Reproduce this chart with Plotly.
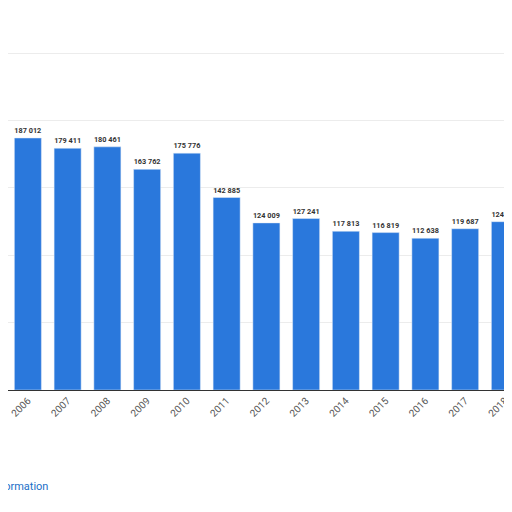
import plotly.graph_objects as go

years = ["2006","2007","2008","2009","2010","2011","2012","2013","2014","2015","2016","2017","2018"]
values = [187012,179411,180461,163762,175776,142885,124009,127241,117813,116819,112638,119687,124910]
labels = [f"{v:,}".replace(",", " ") for v in values]

xs = list(range(len(years)))
fig = go.Figure(go.Bar(x=xs, y=values, text=labels, textposition="outside",
    marker_color="#2a78dc", width=0.68, cliponaxis=False,
    textfont=dict(family="Roboto", size=12, color="#333333", weight="bold")))
fig.update_layout(width=512, height=512, margin=dict(l=0, r=0, t=0, b=130, autoexpand=False),
    paper_bgcolor="white", plot_bgcolor="white", showlegend=False,
    xaxis=dict(range=[-0.5, 12.38], tickvals=xs, ticktext=years, tickangle=-45,
               automargin=False,
               tickfont=dict(family="Roboto", size=10, color="#555555"),
               showline=True, linecolor="#333333", ticks=""),
    yaxis=dict(range=[0, 283480], dtick=50000, showticklabels=False, automargin=False,
               gridcolor="#ececec", zeroline=False),
    annotations=[
        dict(text="Additional Information", x=42/512, xref="paper", xanchor="right",
             y=-96/382, yref="paper", yanchor="middle", showarrow=False,
             font=dict(family="Roboto", size=11, color="#1a6fc7")),
        dict(text="© Statista", x=505/512, xref="paper", xanchor="left",
             y=-73/382, yref="paper", yanchor="middle", showarrow=False,
             font=dict(family="Roboto", size=11, color="#1a6fc7")),
    ])
fig.write_html("out.html")
